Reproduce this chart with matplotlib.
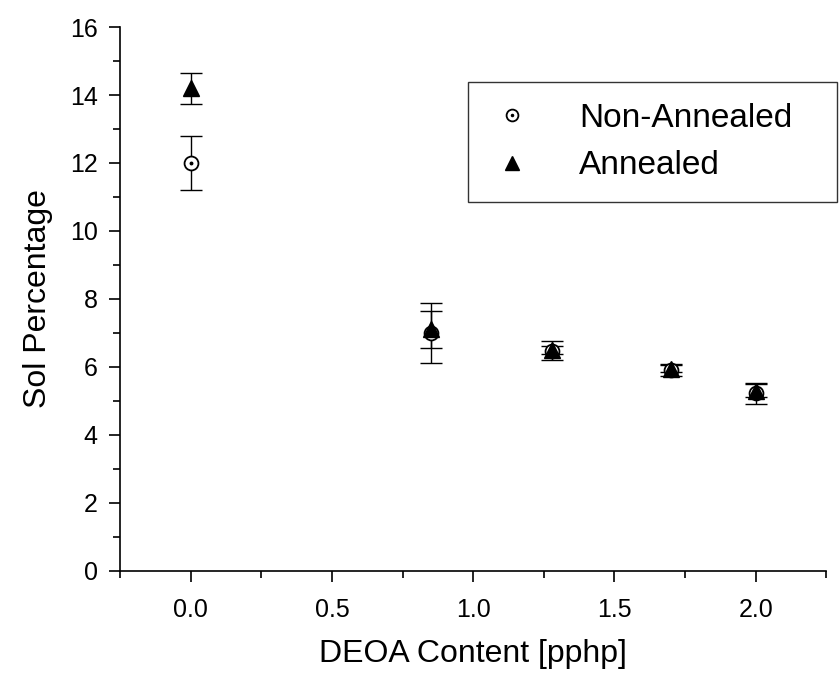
import numpy as np
import matplotlib.pyplot as plt
from matplotlib.legend_handler import HandlerTuple

plt.rcParams['font.family'] = ['Liberation Sans', 'DejaVu Sans']

# DEOA content [pphp]
deoa = [0.0, 0.85, 1.28, 1.7, 2.0]

# Sol percentage, non-annealed samples
sol_non = [12.0, 7.0, 6.47, 5.9, 5.22]
err_non = [0.8, 0.88, 0.28, 0.17, 0.3]

# Sol percentage, annealed samples
sol_ann = [14.2, 7.1, 6.5, 5.95, 5.3]
err_ann = [0.45, 0.55, 0.12, 0.1, 0.2]

fig = plt.figure(figsize=(8.39, 6.77), dpi=100)
ax = fig.add_axes([0.143, 0.157, 0.842, 0.803])

ax.errorbar(deoa, sol_non, yerr=err_non, fmt='none', ecolor='black',
            elinewidth=1, capsize=8, capthick=1, zorder=2)
ax.errorbar(deoa, sol_ann, yerr=err_ann, fmt='none', ecolor='black',
            elinewidth=1, capsize=8, capthick=1, zorder=2)

h_circ, = ax.plot(deoa, sol_non, 'o', ms=10, mfc='white', mec='black', mew=1.3, zorder=3)
h_dot, = ax.plot(deoa, sol_non, 'o', ms=1.8, mfc='black', mec='black', zorder=4)
h_tri, = ax.plot(deoa, sol_ann, '^', ms=11.5, mfc='black', mec='black', zorder=5)

ax.set_xlim(-0.25, 2.25)
ax.set_ylim(0, 16)
ax.set_xticks([0.0, 0.5, 1.0, 1.5, 2.0])
ax.set_xticks([-0.25, 0.25, 0.75, 1.25, 1.75, 2.25], minor=True)
ax.set_yticks(np.arange(0, 17, 2))
ax.set_yticks(np.arange(1, 16, 2), minor=True)
ax.set_xticklabels(['0.0', '0.5', '1.0', '1.5', '2.0'])

for s in ['top', 'right']:
    ax.spines[s].set_visible(False)
for s in ['left', 'bottom']:
    ax.spines[s].set_linewidth(1.2)

ax.tick_params(which='major', direction='out', length=8, width=1.2, labelsize=18, pad=12)
ax.tick_params(which='minor', direction='out', length=5, width=1.2)
ax.tick_params(axis='y', pad=8)

ax.set_xlabel('DEOA Content [pphp]', fontsize=23, labelpad=12)
ax.set_ylabel('Sol Percentage', fontsize=23, labelpad=12)

leg = fig.legend([(h_circ, h_dot), h_tri], ['Non-Annealed', 'Annealed'],
                 handler_map={tuple: HandlerTuple(ndivide=1)},
                 loc='upper left', bbox_to_anchor=(0.558, 0.712, 0.44, 0.167),
                 mode='expand', borderaxespad=0, fontsize=24, markerscale=0.85,
                 frameon=True, fancybox=False, edgecolor='black', borderpad=0.62,
                 handletextpad=1.3, labelspacing=0.5, handlelength=1.4)
leg.get_frame().set_linewidth(1.0)

fig.savefig('out.png', dpi=100)
